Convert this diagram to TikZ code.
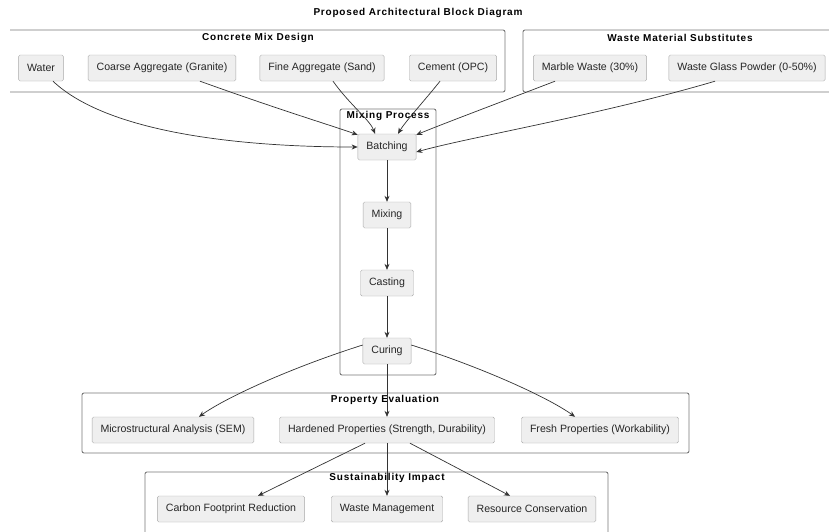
\documentclass[tikz,border=0pt]{standalone}
\usepackage{fontspec}
\setmainfont{Liberation Sans}
\newfontfamily\titlefont[LetterSpace=8]{Liberation Sans}
\usetikzlibrary{arrows.meta}
\definecolor{nodefill}{HTML}{EFEFEF}
\definecolor{nodeborder}{HTML}{A8A8A8}
\definecolor{clusterborder}{HTML}{777777}
\definecolor{edgecol}{HTML}{333333}
\begin{document}
\begin{tikzpicture}[x=1pt,y=-1pt,
  box/.style={draw=nodeborder,fill=nodefill,rounded corners=1.5pt,minimum height=26pt,inner xsep=8.5pt,inner ysep=0pt,font=\fontsize{10.6}{12}\selectfont,text=black!85},
  cluster/.style={draw=clusterborder,line width=0.9pt,rounded corners=2pt},
  ctitle/.style={font=\titlefont\fontsize{10}{12}\selectfont\bfseries,text=black},
  edge/.style={draw=edgecol,line width=0.7pt,-{Stealth[length=6pt,width=5pt]}}]
\useasboundingbox (0,0) rectangle (829,531);
\fill[white] (0,0) rectangle (829,531);
% title
\node[ctitle] (title) at (418,13) {Proposed Architectural Block Diagram};
% clusters
\draw[cluster] (10,30) -- (505,30) -- (505,92) -- (10,92);
\node[ctitle] (t1) at (258,38) {Concrete Mix Design};
\draw[cluster] (829,30) -- (523,30) -- (523,92) -- (829,92);
\node[ctitle] (t2) at (680,38) {Waste Material Substitutes};
\draw[cluster] (340,109) rectangle (436,375);
\node[ctitle] (t3) at (388,116) {Mixing Process};
\draw[cluster] (82,393) rectangle (689,453);
\node[ctitle] (t4) at (385,400) {Property Evaluation};
\draw[cluster] (145,535) -- (145,472) -- (608,472) -- (608,535);
\node[ctitle] (t5) at (387,478) {Sustainability Impact};
% nodes
\node[box] (water) at (41,68) {Water};
\node[box] (coarse) at (162,68) {Coarse Aggregate (Granite)};
\node[box] (fine) at (322,68) {Fine Aggregate (Sand)};
\node[box] (cement) at (453,68) {Cement (OPC)};
\node[box] (marble) at (590,68) {Marble Waste (30\%)};
\node[box] (glass) at (747,68) {Waste Glass Powder (0-50\%)};
\node[box] (batching) at (387,147) {Batching};
\node[box] (mixing) at (387,215) {Mixing};
\node[box] (casting) at (387,283) {Casting};
\node[box] (curing) at (387,351) {Curing};
\node[box] (micro) at (173,430) {Microstructural Analysis (SEM)};
\node[box] (hardened) at (387,430) {Hardened Properties (Strength, Durability)};
\node[box] (fresh) at (600,430) {Fresh Properties (Workability)};
\node[box] (carbon) at (231,509) {Carbon Footprint Reduction};
\node[box] (wastemgmt) at (387,509) {Waste Management};
\node[box] (resource) at (532,509) {Resource Conservation};
% edges into batching
\draw[edge] ([xshift=12pt]water.south) .. controls (110,135) and (250,147) .. (batching.west);
\draw[edge] ([xshift=38pt]coarse.south) .. controls (280,110) and (330,125) .. ([yshift=-1pt]batching.north west);
\draw[edge] ([xshift=11pt]fine.south) .. controls (350,105) and (370,120) .. ([xshift=-12pt]batching.north);
\draw[edge] ([xshift=-13pt]cement.south) .. controls (425,100) and (405,122) .. ([xshift=11pt]batching.north);
\draw[edge] ([xshift=-35pt]marble.south) .. controls (480,110) and (440,125) .. ([yshift=-1pt]batching.north east);
\draw[edge] ([xshift=-32pt]glass.south) .. controls (600,115) and (470,137) .. ([yshift=-5pt]batching.east);
% process chain
\draw[edge] (batching) -- (mixing);
\draw[edge] (mixing) -- (casting);
\draw[edge] (casting) -- (curing);
% curing out
\draw[edge] ([yshift=6pt]curing.west) .. controls (290,368) and (225,398) .. ([xshift=26pt]micro.north);
\draw[edge] (curing) -- (hardened);
\draw[edge] ([yshift=6pt]curing.east) .. controls (484,368) and (549,398) .. ([xshift=-25pt]fresh.north);
% hardened out
\draw[edge] ([xshift=-22pt]hardened.south) -- ([xshift=27pt]carbon.north);
\draw[edge] (hardened) -- (wastemgmt);
\draw[edge] ([xshift=23pt]hardened.south) -- ([xshift=-22pt]resource.north);
\end{tikzpicture}
\end{document}
